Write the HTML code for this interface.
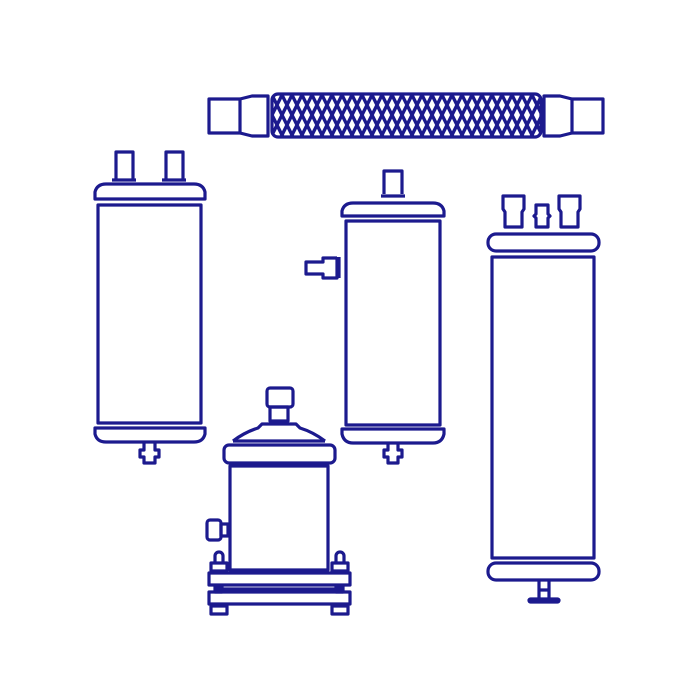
<!DOCTYPE html>
<html><head><meta charset="utf-8"><style>html,body{margin:0;padding:0;background:#fff}svg{display:block}</style></head>
<body>
<svg width="690" height="690" viewBox="0 0 690 690" xmlns="http://www.w3.org/2000/svg">
<defs>
<pattern id="br" width="10" height="20" patternUnits="userSpaceOnUse" x="272" y="95">
<path d="M0,0 L10,20 M-10,0 L0,20 M10,0 L20,20 M10,0 L0,20 M0,0 L-10,20 M20,0 L10,20" stroke="#1c1a8e" stroke-width="3.4"/>
</pattern>
</defs>
<g fill="none" stroke="#1c1a8e" stroke-width="3.2" stroke-linejoin="round">
<!-- hose -->
<rect x="209" y="99" width="31" height="34"/>
<path d="M240,99 L252,96 L268,96 L268,136 L252,136 L240,133"/>
<rect x="272" y="94" width="269" height="43" rx="6" fill="url(#br)"/>
<path d="M572,99 L560,96 L544,96 L544,136 L560,136 L572,133"/>
<rect x="572" y="99" width="31" height="34"/>

<!-- left tank -->
<path d="M116,179 L116,152 L133,152 L133,179 M112,180 L136,180"/>
<path d="M166,179 L166,152 L183,152 L183,179 M162,180 L186,180"/>
<path d="M95,199 L95,192 Q97,184 106,184 L194,184 Q203,184 205,192 L205,199 Z"/>
<rect x="98" y="205" width="103" height="218"/>
<path d="M95,428 L205,428 L205,434 Q203,442 194,442 L106,442 Q97,442 95,434 Z"/>
<path d="M144,443 L144,450 L140,450 L140,457 L144,457 L144,463 L155,463 L155,457 L159,457 L159,450 L155,450 L155,443"/>

<!-- middle tank -->
<path d="M384,194 L384,171 L402,171 L402,194 M381,196 L405,196"/>
<path d="M342,216 L342,211 Q344,203 353,203 L433,203 Q442,203 444,211 L444,216 Z"/>
<rect x="346" y="221" width="94" height="204"/>
<path d="M342,429 L444,429 L444,434 Q442,443 433,443 L353,443 Q344,443 342,434 Z"/>
<path d="M388,444 L388,450 L384,450 L384,457 L388,457 L388,463 L398,463 L398,457 L402,457 L402,450 L398,450 L398,444"/>
<path d="M339,257 L339,278 M337,257 L337,278 L323,278 L323,274 L306,274 L306,262 L323,262 L323,258 L337,258"/>

<!-- right tank -->
<path d="M505,227 L505,212 L503,209 L503,196 L524,196 L524,209 L522,212 L522,227 Z"/>
<path d="M536,227 L536,218 L534,216 L536,214 L536,205 L548,205 L548,214 L550,216 L548,218 L548,227 Z"/>
<path d="M561,227 L561,212 L559,209 L559,196 L580,196 L580,209 L578,212 L578,227 Z"/>
<rect x="488" y="234" width="111" height="17" rx="8"/>
<rect x="492" y="257" width="102" height="301"/>
<rect x="488" y="563" width="111" height="17" rx="8"/>
<path d="M539,581 L539,599 M549,581 L549,599 M539,590 L549,590"/>
<rect x="529" y="599" width="30" height="3" rx="1.5" fill="#1c1a8e"/>

<!-- bottom tank -->
<rect x="267" y="388" width="26" height="19" rx="3"/>
<rect x="270" y="407" width="18" height="14"/>
<path d="M233,441 Q245,432 258,428 L262,424 L296,424 L300,428 Q313,432 325,441"/>
<path d="M233,441 L325,441"/>
<rect x="224" y="445" width="111" height="18" rx="5"/>
<path d="M230,465 L328,465" stroke-width="4"/>
<rect x="230" y="466" width="98" height="104"/>
<rect x="207" y="520" width="14" height="20" rx="3"/>
<rect x="221" y="524" width="7" height="12"/>
<path d="M215,562 L215,556 A4,4 0 0 1 223,556 L223,562"/>
<path d="M336,562 L336,556 A4,4 0 0 1 344,556 L344,562"/>
<rect x="211" y="563" width="16" height="8"/>
<rect x="332" y="563" width="16" height="8"/>
<rect x="209" y="573" width="141" height="12"/>
<rect x="215" y="586" width="7" height="6" fill="#1c1a8e"/>
<rect x="336" y="586" width="7" height="6" fill="#1c1a8e"/>
<path d="M222,589 L336,589"/>
<rect x="209" y="592" width="141" height="12"/>
<rect x="211" y="606" width="16" height="8"/>
<rect x="332" y="606" width="16" height="8"/>
</g>
</svg>
</body></html>
